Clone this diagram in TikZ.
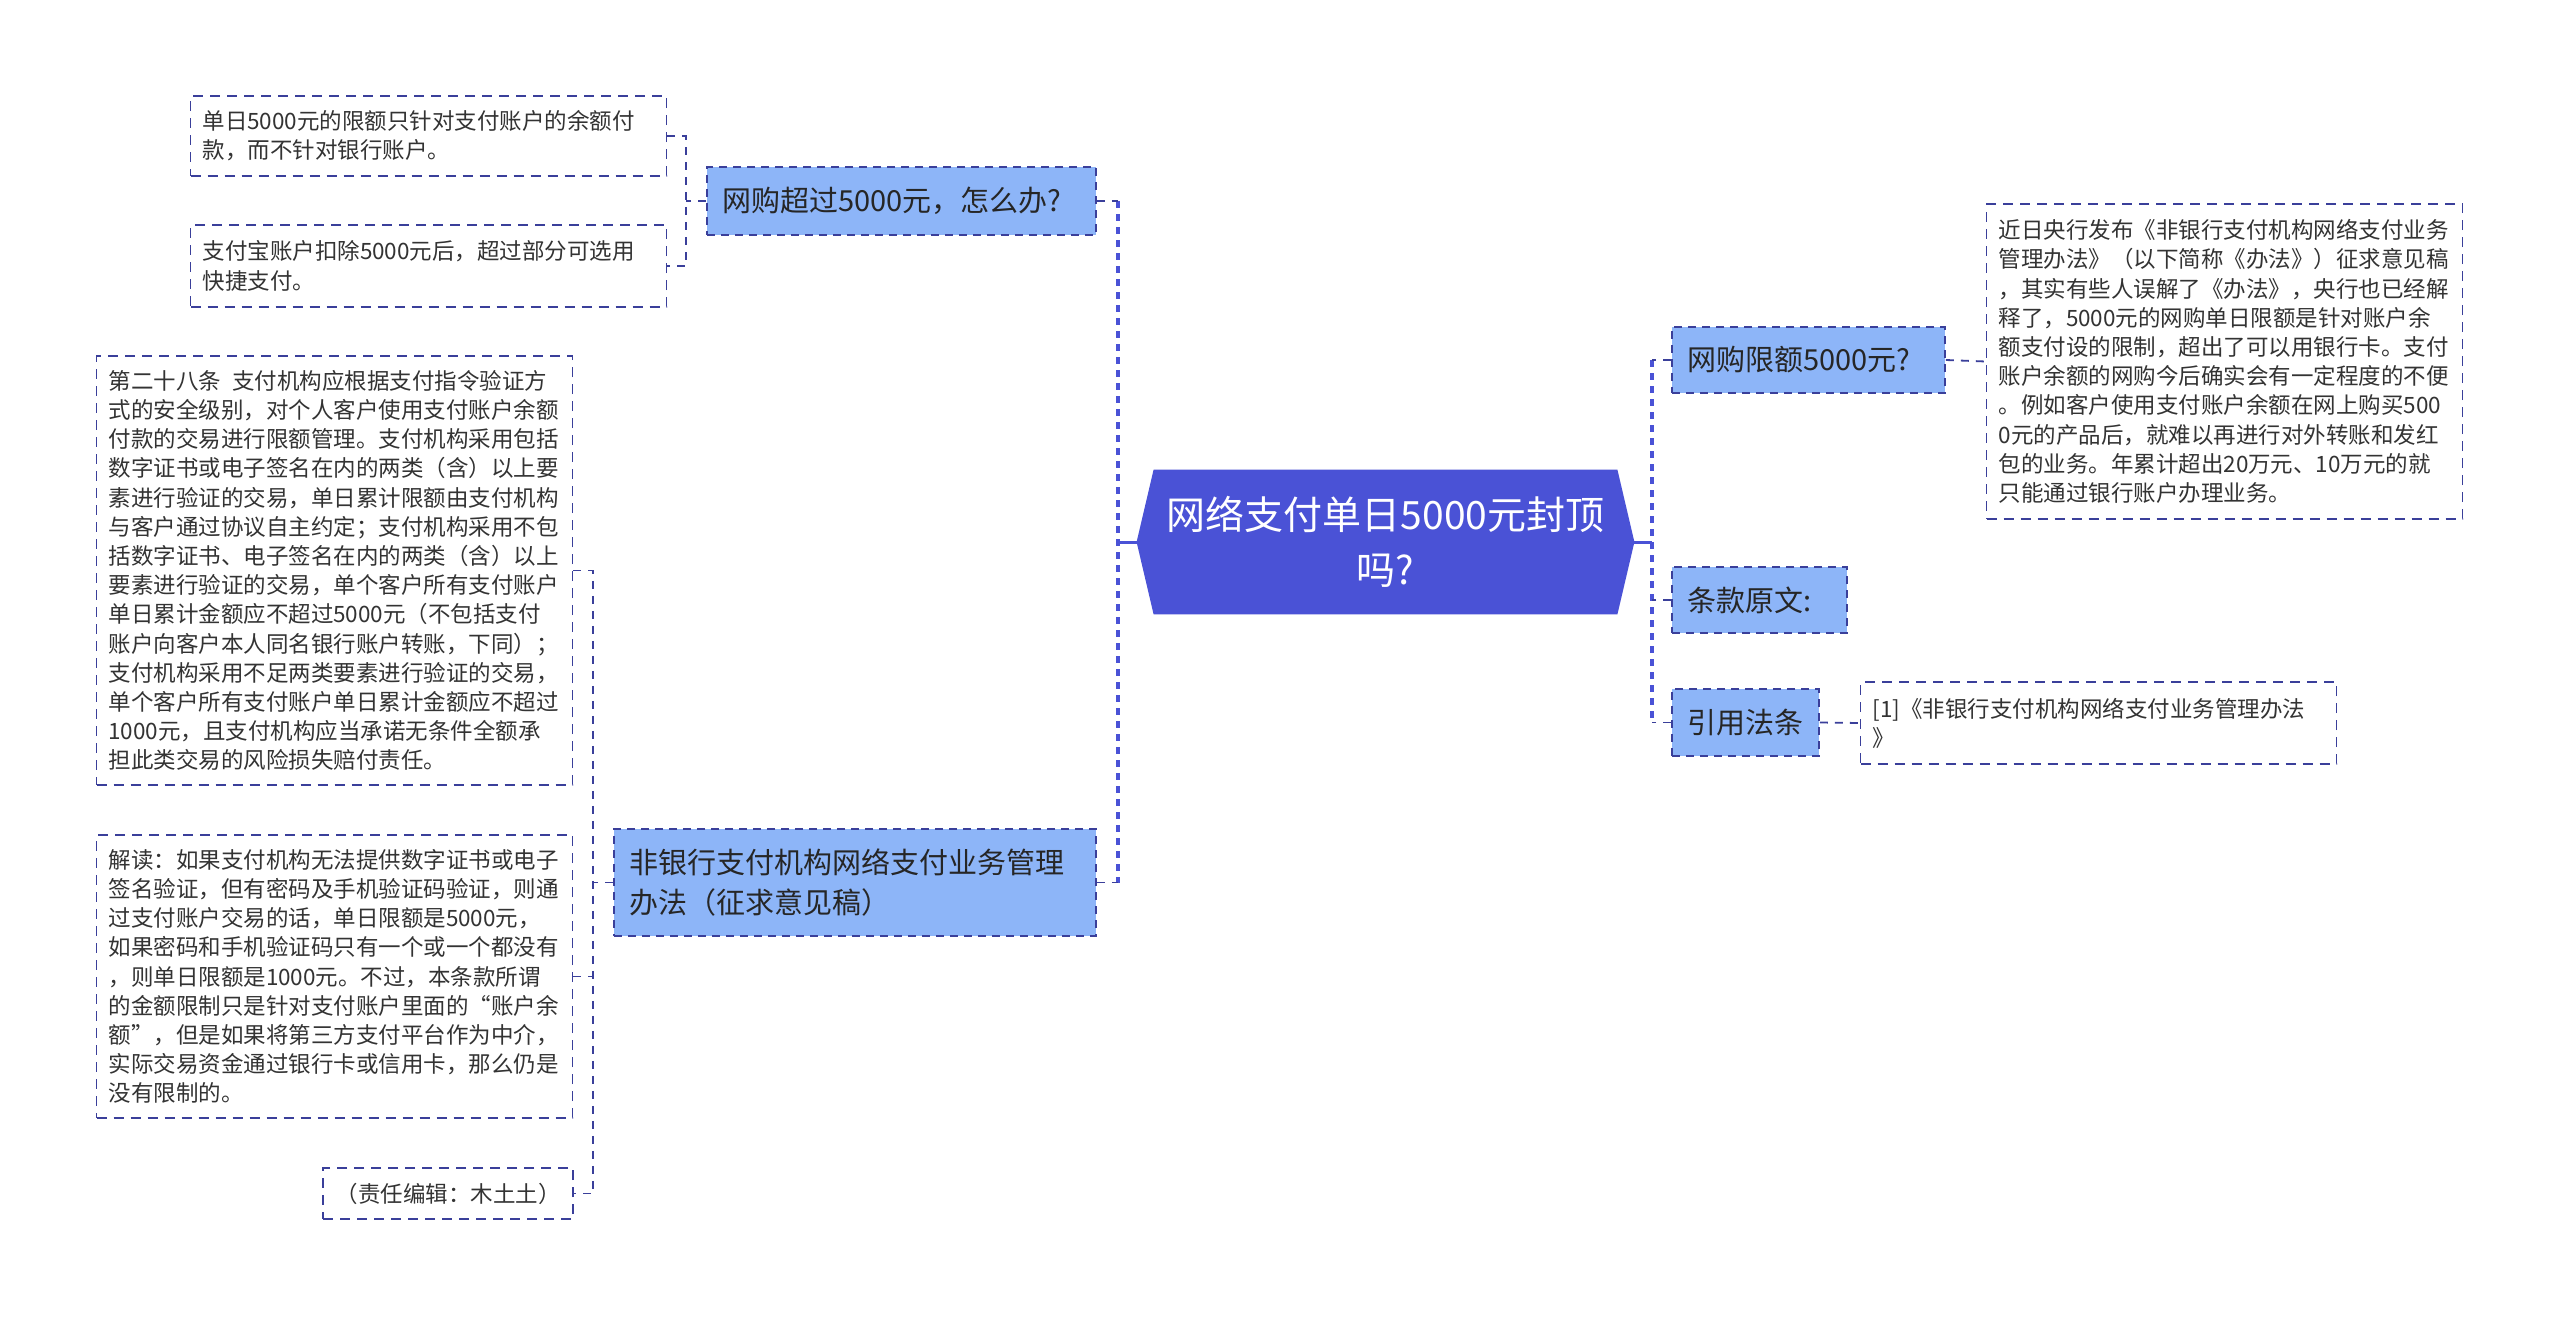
\documentclass[tikz,border=0pt]{standalone}
\usepackage{fontspec}
\setmainfont{Noto Sans CJK SC}
\usepackage{xcolor}
\usepackage{tikz}
\usetikzlibrary{calc}
\usetikzlibrary{backgrounds}
\definecolor{hubblue}{HTML}{4A52D6}
\definecolor{branchblue}{HTML}{8DB5F8}
\definecolor{edgeblue}{HTML}{3A3F9A}
\definecolor{leaftext}{HTML}{333333}
\tikzset{ hub_node/.style = {rectangle, text=white, align=center, text width=224pt, inner xsep=3.75pt, minimum width=231.5pt, minimum height=72pt, font=\fontsize{19.5pt}{27.5pt}\selectfont} }
\tikzset{ branch_box/.style 2 args = {rectangle, draw=edgeblue, line width=0.9pt, dash pattern=on 4pt off 3pt, fill=branchblue, text=black!85, align=left, text width=#1, inner xsep=7.5pt, inner ysep=0pt, minimum height=#2, font=\fontsize{14.5pt}{20pt}\selectfont} }
\tikzset{ leaf_box/.style = {rectangle, draw=edgeblue, line width=0.8pt, dash pattern=on 5pt off 3.5pt, fill=white, text=leaftext, align=left, text width=226pt, inner xsep=6pt, inner ysep=0pt, minimum height=#1, font=\fontsize{11.25pt}{14.6pt}\selectfont} }
\tikzset{ stem_line/.style = {draw=hubblue, line width=1.5pt} }
\tikzset{ trunk_line/.style = {draw=hubblue, line width=1.6pt, dash pattern=on 3.5pt off 3pt} }
\tikzset{ tie_line/.style = {draw=edgeblue, line width=0.9pt, dash pattern=on 4pt off 3.5pt} }

\begin{document}
\begin{tikzpicture}[x=0.5pt, y=-0.5pt]
    \useasboundingbox (0,0) rectangle (2560,1317);
    \node[hub_node] (C0) at (1385.5, 542) {网络支付单日5000元封顶\\吗?};
    \coordinate (C0_w) at ($(C0.west)+(-17,0)$);
    \coordinate (C0_e) at ($(C0.east)+(17,0)$);
    \begin{pgfonlayer}{background}
        \fill[white] (0,0) rectangle (2560,1317);
        \fill[hubblue] (C0_w) -- (C0.north west) -- (C0.north east) -- (C0_e) -- (C0.south east) -- (C0.south west) -- cycle;
    \end{pgfonlayer}

    \node[branch_box={179.5pt}{34pt}] (B1) at (901.5, 201) {网购超过5000元，怎么办?};
    \node[branch_box={226pt}{53.5pt}] (B2) at (855, 882.5) {非银行支付机构网络支付业务管理\\办法（征求意见稿）};
    \node[branch_box={121.5pt}{33pt}] (D1) at (1808.5, 360) {网购限额5000元?};
    \node[branch_box={72.5pt}{33pt}] (D2) at (1759.5, 600) {条款原文:};
    \node[branch_box={58.5pt}{33.5pt}] (D3) at (1745.5, 722.5) {引用法条};

    \node[leaf_box=40pt] (A1) at (428.5, 136) {单日5000元的限额只针对支付账户的余额付\\款，而不针对银行账户。};
    \node[leaf_box=41pt] (A2) at (428.5, 266) {支付宝账户扣除5000元后，超过部分可选用\\快捷支付。};
    \node[leaf_box=214.5pt] (L1) at (334.5, 570.5) {第二十八条\hspace{0.5em}支付机构应根据支付指令验证方\\式的安全级别，对个人客户使用支付账户余额\\付款的交易进行限额管理。支付机构采用包括\\数字证书或电子签名在内的两类（含）以上要\\素进行验证的交易，单日累计限额由支付机构\\与客户通过协议自主约定；支付机构采用不包\\括数字证书、电子签名在内的两类（含）以上\\要素进行验证的交易，单个客户所有支付账户\\单日累计金额应不超过5000元（不包括支付\\账户向客户本人同名银行账户转账，下同）；\\支付机构采用不足两类要素进行验证的交易，\\单个客户所有支付账户单日累计金额应不超过\\1000元，且支付机构应当承诺无条件全额承\\担此类交易的风险损失赔付责任。};
    \node[leaf_box=141.5pt] (L2) at (334.5, 976.5) {解读：如果支付机构无法提供数字证书或电子\\签名验证，但有密码及手机验证码验证，则通\\过支付账户交易的话，单日限额是5000元，\\如果密码和手机验证码只有一个或一个都没有\\，则单日限额是1000元。不过，本条款所谓\\的金额限制只是针对支付账户里面的“账户余\\额”，但是如果将第三方支付平台作为中介，\\实际交易资金通过银行卡或信用卡，那么仍是\\没有限制的。};
    \node[leaf_box=25.5pt, text width=113pt, align=center] (L3) at (448, 1193.5) {（责任编辑：木土土）};
    \node[leaf_box=157.5pt] (E0) at (2224.5, 361.5) {近日央行发布《非银行支付机构网络支付业务\\管理办法》（以下简称《办法》）征求意见稿\\，其实有些人误解了《办法》，央行也已经解\\释了，5000元的网购单日限额是针对账户余\\额支付设的限制，超出了可以用银行卡。支付\\账户余额的网购今后确实会有一定程度的不便\\。例如客户使用支付账户余额在网上购买500\\0元的产品后，就难以再进行对外转账和发红\\包的业务。年累计超出20万元、10万元的就\\只能通过银行账户办理业务。};
    \node[leaf_box=41pt] (E1) at (2098.5, 723) {[1]《非银行支付机构网络支付业务管理办法\\》};

    \coordinate (lt) at (1118, 542);
    \coordinate (rt) at (1652, 542);
    \coordinate (B1_tie) at (686, 201);
    \coordinate (B2_tie) at (593, 882.5);

    \draw[stem_line] (C0_w) to (lt);
    \draw[trunk_line] (B1.east -| lt) to (B2.east -| lt);
    \draw[tie_line] (B1.east) to (B1.east -| lt);
    \draw[tie_line] (B2.east) to (B2.east -| lt);

    \draw[stem_line] (C0_e) to (rt);
    \draw[trunk_line] (D1.west -| rt) to (D3.west -| rt);
    \draw[tie_line] (D1.west) to (D1.west -| rt);
    \draw[tie_line] (D2.west) to (D2.west -| rt);
    \draw[tie_line] (D3.west) to (D3.west -| rt);

    \draw[tie_line] (A1.east) -- (A1.east -| B1_tie) |- (A2.east);
    \draw[tie_line] (B1.west) to (B1_tie);
    \draw[tie_line] (L1.east) -- (L1.east -| B2_tie) |- (L3.east);
    \draw[tie_line] (L2.east) to (L2.east -| B2_tie);
    \draw[tie_line] (B2.west) to (B2_tie);

    \draw[tie_line] (D1.east) to (E0.west);
    \draw[tie_line] (D3.east) to (E1.west);
\end{tikzpicture}
\end{document}
